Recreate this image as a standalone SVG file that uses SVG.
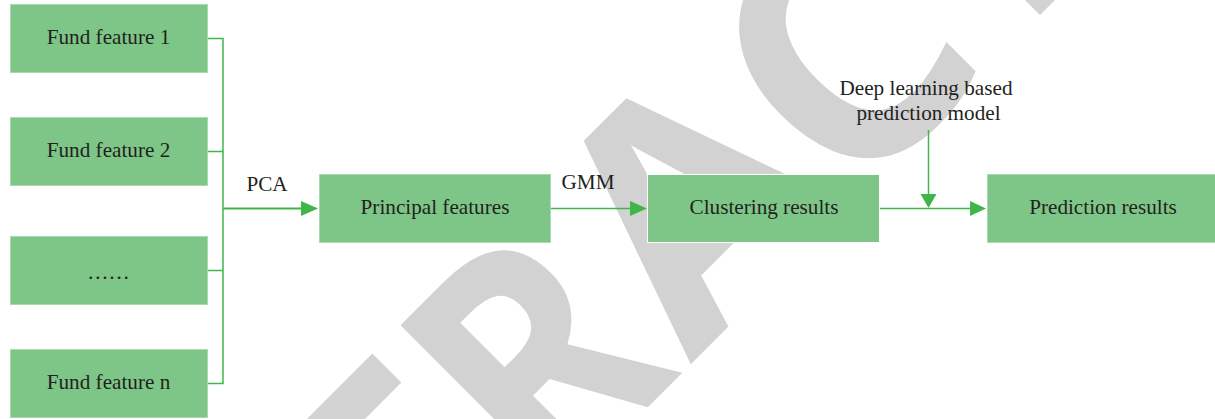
<svg xmlns="http://www.w3.org/2000/svg" width="1215" height="419" viewBox="0 0 1215 419">
<style>
.wm{font-family:"Open Sans","Liberation Sans",sans-serif;font-weight:700;font-size:326px;fill:#d2d2d2}
.box{fill:#7dc687;stroke:#a9d9af;stroke-width:1}
.t{font-family:"Liberation Serif","Times New Roman",serif;font-size:21.200px;fill:#231f20;text-anchor:middle}
.c{fill:none;stroke:#40b64a;stroke-width:1.5}
.h{fill:#40b64a}
</style>
<rect width="1215" height="419" fill="#fff"/>
<g id="watermark"><text class="wm" transform="translate(527.500,527.500) rotate(-45)"><tspan x="-169" y="0">T</tspan><tspan x="27" y="0" textLength="192" lengthAdjust="spacingAndGlyphs">R</tspan><tspan x="231" y="0">A</tspan><tspan x="452" y="3">C</tspan><tspan x="655" y="0">T</tspan></text></g>
<g id="connectors">
<path class="c" d="M208 38.500H223V383.500H208M208 151.500H223M208 270.500H223"/>
<path class="c" style="stroke-width:2" d="M223 208.500H302"/>
<path class="c" d="M551 208.500H631M880 208.500H971M928.500 130V195"/>
<path class="h" d="M318 208.500L301 201V216Z"/>
<path class="h" d="M647 208.500L630 201V216Z"/>
<path class="h" d="M986 208.500L970 201V216Z"/>
<path class="h" d="M928.500 208L920.500 194H936.500Z"/>
</g>
<g id="n1"><rect class="box" x="10.500" y="4.500" width="197" height="68"/><text class="t" x="108.500" y="44">Fund feature 1</text></g>
<g id="n2"><rect class="box" x="10.500" y="117.500" width="197" height="68"/><text class="t" x="108.500" y="157">Fund feature 2</text></g>
<g id="n3"><rect class="box" x="10.500" y="236.500" width="197" height="68"/><text class="t" x="108.500" y="279">……</text></g>
<g id="n4"><rect class="box" x="10.500" y="349.500" width="197" height="68"/><text class="t" x="108.500" y="389">Fund feature n</text></g>
<g id="n5"><rect class="box" x="319.500" y="174.500" width="231" height="68"/><text class="t" x="435" y="214">Principal features</text></g>
<g id="n6"><rect class="box" style="stroke:#fff" x="647.500" y="174.500" width="232" height="68"/><text class="t" x="764" y="214">Clustering results</text></g>
<g id="n7"><rect class="box" x="987.500" y="174.500" width="228" height="68"/><text class="t" x="1103" y="214">Prediction results</text></g>
<g id="labels">
<text class="t" x="267" y="191">PCA</text>
<text class="t" x="588" y="189">GMM</text>
<text class="t" x="926" y="95">Deep learning based</text>
<text class="t" x="928.500" y="120">prediction model</text>
</g>
</svg>
